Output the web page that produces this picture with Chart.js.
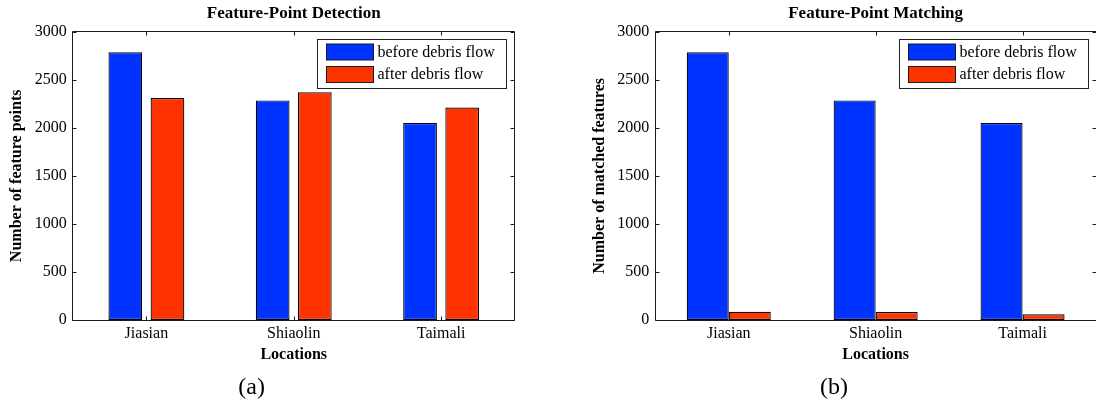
<!DOCTYPE html>
<html>
<head>
<meta charset="utf-8">
<script src="https://cdn.jsdelivr.net/npm/chart.js@4"></script>
<style>
  body { margin: 0; background: #fff; width: 1096px; height: 401px; position: relative; overflow: hidden;
         font-family: "Liberation Serif", "Times New Roman", serif; }
  .panel { position: absolute; top: 0; width: 548px; height: 401px; }
  .panel canvas { display: block; }
  .cap { position: absolute; font-size: 24px; line-height: 1; transform: translate(-50%, -50%); color: #000; white-space: nowrap; }
</style>
</head>
<body>
<div class="panel" style="left:0"><canvas id="detect" width="548" height="401"></canvas></div>
<div class="panel" style="left:548px"><canvas id="match" width="548" height="401"></canvas></div>
<div class="cap" style="left:251.7px; top:386px">(a)</div>
<div class="cap" style="left:834px; top:386px">(b)</div>

<script>
// Locations surveyed
const locations = ['Jiasian', 'Shiaolin', 'Taimali'];

// Detected feature points per location
const detectBefore = [2785, 2285, 2050];
const detectAfter  = [2310, 2370, 2210];

// Matched features per location
const matchBefore = [2785, 2285, 2050];
const matchAfter  = [85, 84, 60];

// Series names
const seriesNames = ['before debris flow', 'after debris flow'];

// Value axis
const yMax = 3000;
const yStep = 500;

const BLUE = '#0033ff';
const RED = '#ff3300';
const EDGE = '#000';
const SERIF = '"Liberation Serif", "Times New Roman", serif';

Chart.defaults.color = '#000';
Chart.defaults.font.family = SERIF;

// Axes box with inward ticks on all four sides, plus a boxed legend in the upper right
const axesBox = {
  id: 'axesBox',
  afterDatasetsDraw(chart) {
    const { ctx, chartArea: a, scales: { x, y } } = chart;
    const L = Math.floor(a.left) + 0.5;
    const R = Math.floor(a.right) + 0.5;
    const T = Math.floor(a.top) + 0.5;
    const B = Math.floor(a.bottom) + 0.5;
    const tk = 4;
    ctx.save();
    ctx.strokeStyle = '#1a1a1a';
    ctx.lineWidth = 1;
    ctx.beginPath();
    ctx.rect(L, T, R - L, B - T);
    y.ticks.forEach(t => {
      const py = Math.round(y.getPixelForValue(t.value)) + 0.5;
      ctx.moveTo(L, py); ctx.lineTo(L + tk, py);
      ctx.moveTo(R, py); ctx.lineTo(R - tk, py);
    });
    x.ticks.forEach((t, i) => {
      const px = Math.round(x.getPixelForTick(i)) + 0.5;
      ctx.moveTo(px, B); ctx.lineTo(px, B - tk);
      ctx.moveTo(px, T); ctx.lineTo(px, T + tk);
    });
    ctx.stroke();

    // legend
    const bw = 189, bh = 49;
    const bx = Math.floor(R - 8 - bw) + 0.5;
    const by = Math.floor(T + 7.6) + 0.5;
    ctx.fillStyle = '#fff';
    ctx.fillRect(bx, by, bw, bh);
    ctx.strokeStyle = '#222';
    ctx.strokeRect(bx, by, bw, bh);
    ctx.font = '16px ' + SERIF;
    ctx.textBaseline = 'middle';
    ctx.textAlign = 'left';
    chart.data.datasets.forEach((ds, i) => {
      const sy = by + 4.5 + i * 22.5;
      ctx.fillStyle = ds.backgroundColor;
      ctx.fillRect(bx + 9, sy, 47, 16);
      ctx.strokeStyle = '#1a1a1a';
      ctx.strokeRect(bx + 9, sy, 47, 16);
      ctx.fillStyle = '#000';
      ctx.fillText(ds.label, bx + 60, sy + 8.5);
    });
    ctx.restore();
  }
};

function makeChart(id, cfg) {
  return new Chart(document.getElementById(id), {
    type: 'bar',
    data: {
      labels: locations,
      datasets: [
        { label: seriesNames[0], data: cfg.before, backgroundColor: BLUE },
        { label: seriesNames[1], data: cfg.after, backgroundColor: RED }
      ].map(d => Object.assign(d, {
        borderColor: EDGE, borderWidth: 1.2, borderSkipped: false,
        barPercentage: cfg.barPct, categoryPercentage: 0.572
      }))
    },
    options: {
      responsive: false,
      animation: false,
      devicePixelRatio: 1,
      layout: { padding: { left: 0, right: cfg.padRight, top: 0, bottom: 0 } },
      plugins: {
        legend: { display: false },
        tooltip: { enabled: false },
        title: {
          display: true, text: cfg.title, fullSize: false, color: '#000',
          font: { family: SERIF, size: 17, weight: 'bold' },
          padding: { top: 3.1, bottom: 8.2 }
        }
      },
      scales: {
        x: {
          grid: { display: false, drawTicks: false },
          border: { display: false },
          ticks: { padding: 4, font: { size: 16 }, color: '#000' },
          title: {
            display: true, text: 'Locations', color: '#000',
            font: { family: SERIF, size: 16, weight: 'bold' },
            padding: { top: 0, bottom: 37 }
          },
          afterFit(scale) { scale.height = 81; }
        },
        y: {
          min: 0, max: yMax,
          grid: { display: false, drawTicks: false },
          border: { display: false },
          ticks: {
            stepSize: yStep, padding: 6, font: { size: 16 }, color: '#000',
            callback: v => String(v)
          },
          title: {
            display: true, text: cfg.yTitle, color: '#000',
            font: { family: SERIF, size: 16, weight: 'bold' },
            padding: { top: cfg.yTitlePad, bottom: 0 }
          },
          afterFit(scale) { scale.width = cfg.yWidth; }
        }
      }
    },
    plugins: [axesBox]
  });
}

makeChart('detect', {
  title: 'Feature-Point Detection',
  yTitle: 'Number of feature points',
  before: detectBefore, after: detectAfter,
  barPct: 0.8, yWidth: 72.7, yTitlePad: 7.4, padRight: 33.2
});

makeChart('match', {
  title: 'Feature-Point Matching',
  yTitle: 'Number of matched features',
  before: matchBefore, after: matchAfter,
  barPct: 1.0, yWidth: 107.3, yTitlePad: 42.4, padRight: 0
});
</script>
</body>
</html>
